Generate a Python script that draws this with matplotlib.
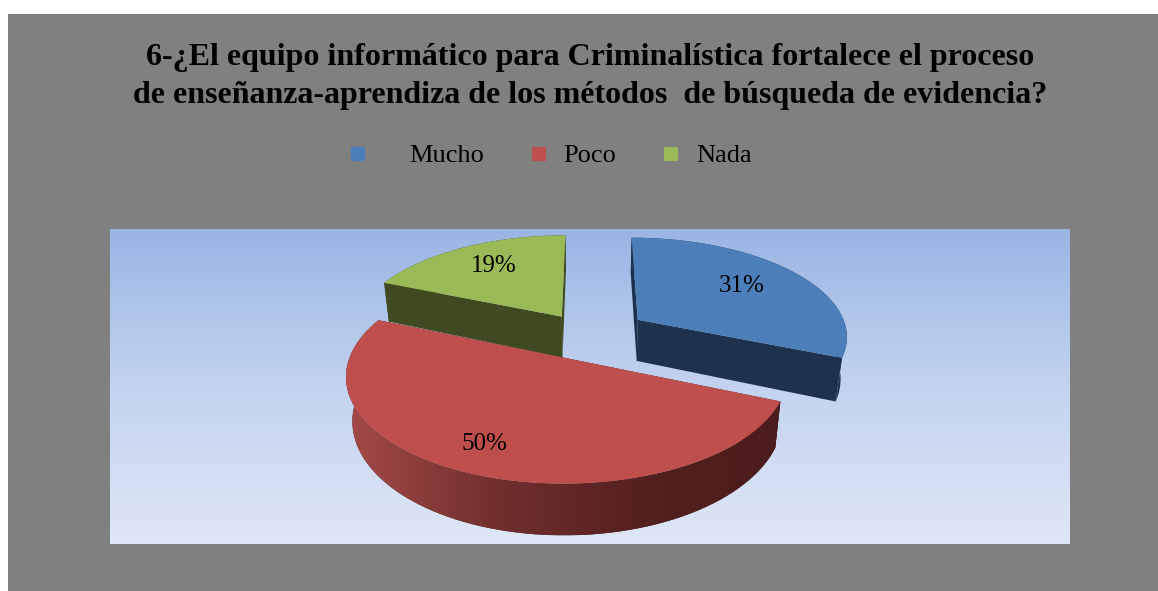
import numpy as np
import matplotlib
matplotlib.use('Agg')
import matplotlib.pyplot as plt
from matplotlib.colors import LinearSegmentedColormap
from matplotlib.patches import Polygon, Rectangle

plt.rcParams['font.family'] = ['Liberation Serif', 'DejaVu Serif']

title_lines = ['6-¿El equipo informático para Criminalística fortalece el proceso',
               'de enseñanza-aprendiza de los métodos  de búsqueda de evidencia?']
categories = ['Mucho', 'Poco', 'Nada']
values = [31.25, 50, 18.75]

top_colors = ['#4c7fba', '#be4f4c', '#9aba58']
wall_colors = ['#1e324d', '#4c1d1c', '#404a20']
explode = [0.27, 0.27, 0.22]
explode_turn = [3, 0, -5]
label_pos = [(742, 284), (484, 442), (494, 264)]

# perspectief van de 3D taart
cx, cy = 590, 333
A, B, H = 210, 98, 42
k, kz = 0.15, 0.025


def project(x, y, z):
    w = 1 + k * y
    sx = cx + A * x / (w + kz * -z)
    sy = cy - B * y / w + H * -z / w
    return np.column_stack([sx, sy])


def outline(a0, a1, off, z):
    t = np.radians(np.linspace(a0, a1, 80))
    x = off[0] + np.sin(t)
    y = off[1] + np.cos(t)
    rim = project(x, y, z * np.ones_like(x))
    apex = project(np.array([off[0]]), np.array([off[1]]), np.array([z]))
    return rim, apex


fig = plt.figure(figsize=(11.58, 5.91), dpi=100)
ax = fig.add_axes([0, 0, 1, 1])
ax.axis('off')

ax.add_patch(Rectangle((8, 14), 1150, 577, color='#808080', lw=0, zorder=0))

sky = LinearSegmentedColormap.from_list('sky', ['#9ab5e4', '#c3d3ef', '#dfe7f6'])
ax.imshow(np.linspace(0, 1, 256).reshape(-1, 1), cmap=sky, extent=(110, 1070, 544, 229),
          aspect='auto', zorder=1)

for line, y in zip(title_lines, [58, 95]):
    ax.text(590, y, line, fontsize=23, fontweight='bold', ha='center', va='center', color='black')

for name, color, mx, tx in zip(categories, top_colors, [351, 532, 664], [409, 563, 696]):
    ax.add_patch(Rectangle((mx, 147), 14, 14, color=color, lw=0))
    ax.text(tx, 156, name, fontsize=19, ha='left', va='center', color='black')

fracs = np.array(values) / sum(values) * 360
starts = np.concatenate([[0], np.cumsum(fracs)[:-1]])
shade = LinearSegmentedColormap.from_list('shade', ['#a34b48', '#73302f', '#552120', '#4a1c1b'])

# volgorde: groen en blauw achter, rood voor
for z_base, i in zip([3, 3, 6], [2, 0, 1]):
    a0, a1 = starts[i], starts[i] + fracs[i]
    mid = np.radians((a0 + a1) / 2 + explode_turn[i])
    off = (explode[i] * np.sin(mid), explode[i] * np.cos(mid))
    rim_top, apex_top = outline(a0, a1, off, 0)
    rim_bot, apex_bot = outline(a0, a1, off, -1)

    # zijkanten
    for rt, rb in [(rim_top[0], rim_bot[0]), (rim_top[-1], rim_bot[-1])]:
        ax.add_patch(Polygon([apex_top[0], rt, rb, apex_bot[0]], color=wall_colors[i], lw=0, zorder=z_base))

    # buitenrand
    wall = Polygon(np.vstack([rim_top, rim_bot[::-1]]), color=wall_colors[i], lw=0, zorder=z_base + 1)
    ax.add_patch(wall)
    if i == 1:
        xs = np.vstack([rim_top, rim_bot])[:, 0]
        ys = np.vstack([rim_top, rim_bot])[:, 1]
        im = ax.imshow(np.linspace(0, 1, 256).reshape(1, -1), cmap=shade,
                       extent=(xs.min(), xs.max(), ys.max(), ys.min()), aspect='auto', zorder=z_base + 1)
        im.set_clip_path(wall)

    # bovenkant
    ax.add_patch(Polygon(np.vstack([apex_top, rim_top]), color=top_colors[i], lw=0, zorder=z_base + 2))

for v, (lx, ly) in zip(values, label_pos):
    ax.text(lx, ly + 2, f'{v:.0f}%', fontsize=18, ha='center', va='center', color='black', zorder=10)

ax.set_xlim(0, 1158)
ax.set_ylim(591, 0)
fig.savefig('out.png', dpi=100, facecolor='white')
